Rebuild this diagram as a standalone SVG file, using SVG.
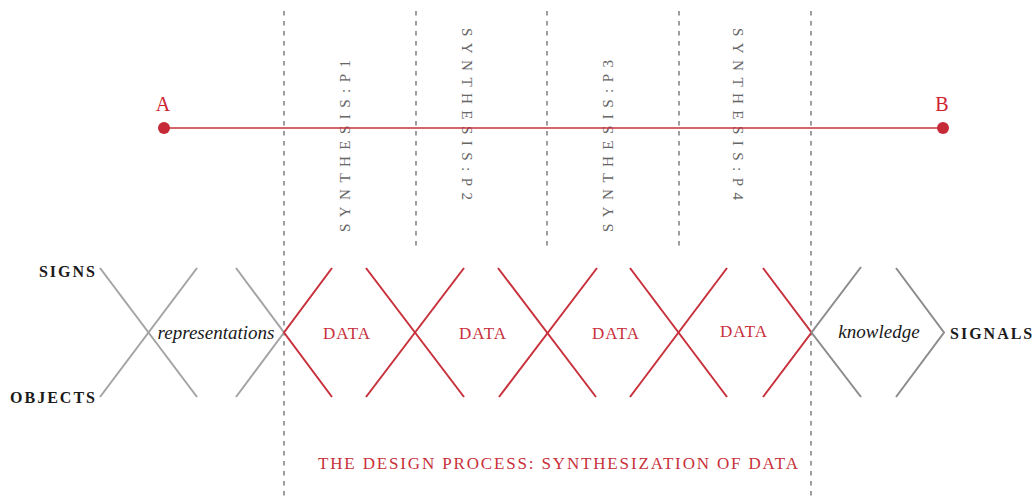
<svg xmlns="http://www.w3.org/2000/svg" width="1036" height="503" viewBox="0 0 1036 503">
  <style>
    .dash { stroke: #6a6a6a; stroke-width: 1.3; stroke-dasharray: 4.5 5.5; fill: none; }
    .grey { stroke: #a3a3a3; stroke-width: 2; fill: none; stroke-linecap: butt; }
    .grey2 { stroke: #8c8c8c; stroke-width: 2; fill: none; }
    .red { stroke: #c8303b; stroke-width: 2; fill: none; }
    .axis { stroke: #c8303b; stroke-width: 1.6; }
    .dot { fill: #c52a36; }
    .caps { font-family: "Liberation Serif", serif; font-weight: bold; font-size: 16px; letter-spacing: 2px; fill: #1a1a1a; }
    .ital { font-family: "Liberation Serif", serif; font-style: italic; font-size: 19px; fill: #1a1a1a; }
    .data { font-family: "Liberation Serif", serif; font-size: 17px; letter-spacing: 1px; fill: #c8303b; }
    .phase { font-family: "Liberation Serif", serif; font-size: 15px; fill: #666666; }
    .pt { font-family: "Liberation Serif", serif; font-size: 20px; fill: #d0232f; }
    .title { font-family: "Liberation Serif", serif; font-size: 17px; fill: #c8303b; }
  </style>

  <!-- phase boundaries -->
  <g id="phase-boundaries">
    <line class="dash" x1="284" y1="11" x2="284" y2="498"/>
    <line class="dash" x1="416" y1="11" x2="416" y2="249"/>
    <line class="dash" x1="547" y1="11" x2="547" y2="249"/>
    <line class="dash" x1="679" y1="11" x2="679" y2="249"/>
    <line class="dash" x1="811" y1="11" x2="811" y2="498"/>
  </g>

  <!-- phase labels -->
  <g id="phase-p1"><text class="phase" transform="translate(350,232) rotate(-90)" x="0" y="0" textLength="172" lengthAdjust="spacing">SYNTHESIS:P1</text></g>
  <g id="phase-p2"><text class="phase" transform="translate(462,28) rotate(90)" x="0" y="0" textLength="172" lengthAdjust="spacing">SYNTHESIS:P2</text></g>
  <g id="phase-p3"><text class="phase" transform="translate(613,232) rotate(-90)" x="0" y="0" textLength="172" lengthAdjust="spacing">SYNTHESIS:P3</text></g>
  <g id="phase-p4"><text class="phase" transform="translate(733,28) rotate(90)" x="0" y="0" textLength="172" lengthAdjust="spacing">SYNTHESIS:P4</text></g>

  <!-- connectors -->
  <g id="connectors">
    <line class="axis" x1="164" y1="128" x2="943" y2="128"/>
    <!-- grey crossing: signs / objects -->
    <line class="grey" x1="100" y1="268" x2="197" y2="397"/>
    <line class="grey" x1="197" y1="268" x2="100" y2="397"/>
    <polyline class="grey" points="236,268 284,332.5 236,397"/>
    <!-- data crossings -->
    <polyline class="red" points="332,268 284,332.5 332,397"/>
    <line class="red" x1="366" y1="268" x2="464" y2="397"/>
    <line class="red" x1="464" y1="268" x2="366" y2="397"/>
    <line class="red" x1="498" y1="268" x2="596" y2="397"/>
    <line class="red" x1="597" y1="268" x2="499" y2="397"/>
    <line class="red" x1="630" y1="268" x2="727" y2="397"/>
    <line class="red" x1="727" y1="268" x2="630" y2="397"/>
    <polyline class="red" points="763,268 811.5,332.5 763,397"/>
    <!-- knowledge bracket -->
    <polyline class="grey2" points="861,267 811.5,332.5 861,397"/>
    <polyline class="grey2" points="896,268 944,332.5 896,397"/>
  </g>

  <!-- end points -->
  <g id="point-a">
    <circle class="dot" cx="164" cy="128" r="6"/>
    <text class="pt" x="163" y="111" text-anchor="middle">A</text>
  </g>
  <g id="point-b">
    <circle class="dot" cx="943" cy="128" r="6"/>
    <text class="pt" x="942" y="111" text-anchor="middle">B</text>
  </g>

  <g id="node-signs"><text class="caps" x="97" y="277" text-anchor="end">SIGNS</text></g>
  <g id="node-objects"><text class="caps" x="97" y="403" text-anchor="end">OBJECTS</text></g>
  <g id="node-representations"><text class="ital" x="216" y="339" text-anchor="middle">representations</text></g>

  <g id="node-data-1"><text class="data" x="347" y="339" text-anchor="middle">DATA</text></g>
  <g id="node-data-2"><text class="data" x="483" y="339" text-anchor="middle">DATA</text></g>
  <g id="node-data-3"><text class="data" x="616" y="339" text-anchor="middle">DATA</text></g>
  <g id="node-data-4"><text class="data" x="744" y="337" text-anchor="middle">DATA</text></g>

  <g id="node-knowledge"><text class="ital" x="879" y="338" text-anchor="middle" font-size="20px">knowledge</text></g>
  <g id="node-signals"><text class="caps" x="950" y="339">SIGNALS</text></g>

  <g id="title"><text class="title" x="318" y="469" textLength="480" lengthAdjust="spacing">THE DESIGN PROCESS: SYNTHESIZATION OF DATA</text></g>
</svg>
